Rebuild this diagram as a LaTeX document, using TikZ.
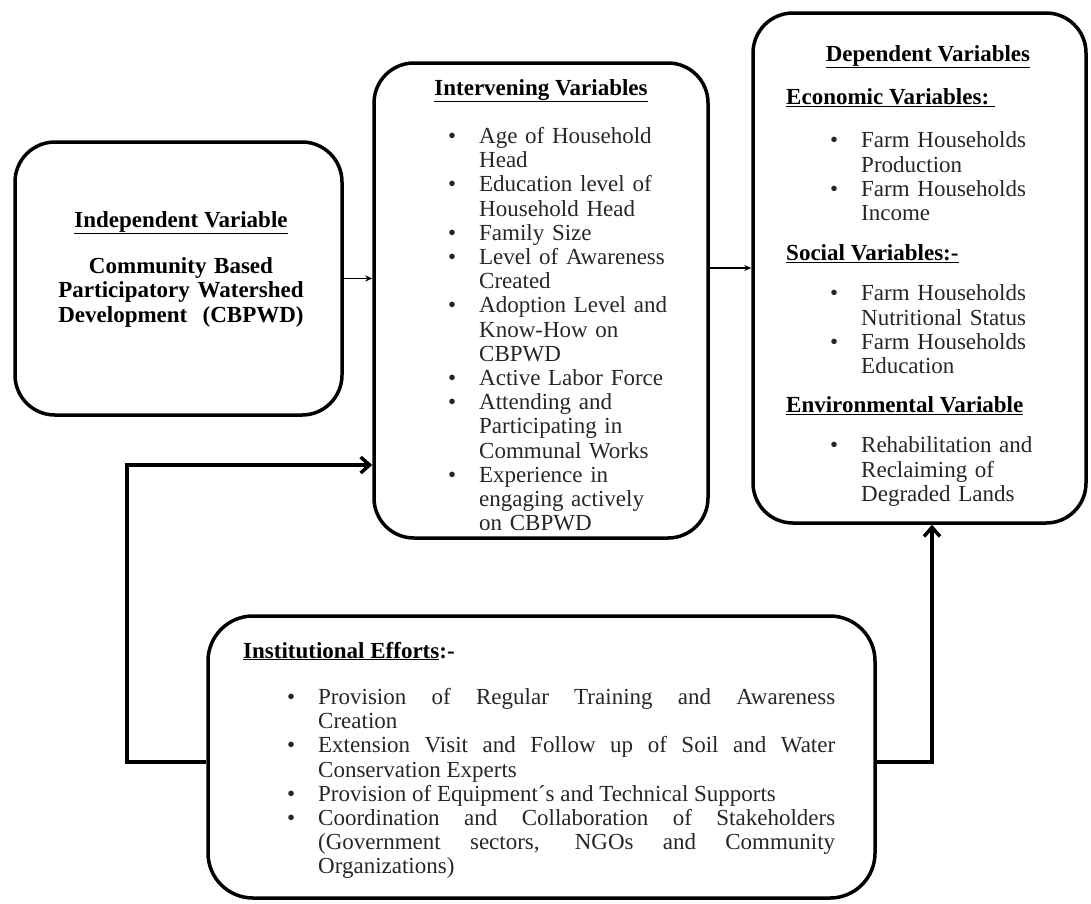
\documentclass[tikz,border=0pt]{standalone}
\usepackage{fontspec}
\setmainfont{Liberation Serif}
\usetikzlibrary{arrows.meta}

\newcommand{\listsize}{\fontsize{23}{24.2}\selectfont\hyphenpenalty=10000\relax}
\newcommand{\bullitem}[1]{\par\hangindent=31pt\hangafter=1\relax\noindent\makebox[31pt][l]{\strut\textbullet}#1\par}

\tikzset{
  varbox/.style={draw=black, line width=3.5pt, rounded corners=40pt, inner sep=0pt},
  head/.style={inner sep=0pt, font=\fontsize{23}{25}\selectfont\bfseries},
  blist/.style={anchor=north west, inner sep=0pt, text=black!85, font=\listsize},
  flow/.style={line width=1.2pt, -{Stealth[length=7pt,width=6pt]}},
  feedback/.style={line width=3.5pt, -{Straight Barb[length=9pt,width=16pt]}}
}

\begin{document}
\begin{tikzpicture}[x=1pt,y=-1pt]

    \useasboundingbox (0,0) rectangle (1091,903);

    \node[varbox, minimum width=327pt, minimum height=273pt] (indep) at (178.5,278.5) {};
    \node[varbox, minimum width=334pt, minimum height=475pt] (interv) at (541,300.5) {};
    \node[varbox, minimum width=333pt, minimum height=510pt] (dep) at (919.5,268) {};
    \node[varbox, rounded corners=45pt, minimum width=667pt, minimum height=282pt] (inst) at (541.5,757) {};

    \node[head, anchor=base] (indephead) at (181,227) {\underline{Independent Variable}};
    \node[head, anchor=north, text width=320pt, align=center, font=\fontsize{23}{24.5}\selectfont\bfseries] (indeptext) at (181,255.9)
      {\strut Community Based\\ Participatory Watershed\\ Development\ \ (CBPWD)};

    \node[head, anchor=base] (intervhead) at (541,95) {\underline{Intervening Variables}};
    \node[blist, text width=245pt, align=left] (intervlist) at (448,119) {%
      \bullitem{Age of Household\newline Head}
      \bullitem{Education level of\newline Household Head}
      \bullitem{Family Size}
      \bullitem{Level of Awareness\newline Created}
      \bullitem{Adoption Level and\newline Know-How on\newline CBPWD}
      \bullitem{Active Labor Force}
      \bullitem{Attending and\newline Participating in\newline Communal Works}
      \bullitem{Experience in\newline engaging actively\newline on CBPWD}};

    \node[head, anchor=base] (dephead) at (928,61) {\underline{Dependent Variables}};
    \node[head, anchor=base west] (econhead) at (786,104) {\underline{Economic Variables:\ }};
    \node[blist, text width=225pt, align=left] (econlist) at (830,123.5) {%
      \bullitem{Farm Households\newline Production}
      \bullitem{Farm Households\newline Income}};
    \node[head, anchor=base west] (sochead) at (786,260) {\underline{Social Variables:-}};
    \node[blist, text width=225pt, align=left] (soclist) at (830,276.5) {%
      \bullitem{Farm Households\newline Nutritional Status}
      \bullitem{Farm Households\newline Education}};
    \node[head, anchor=base west] (envhead) at (786,412) {\underline{Environmental Variable}};
    \node[blist, text width=225pt, align=left] (envlist) at (830,428.5) {%
      \bullitem{Rehabilitation and\newline Reclaiming of\newline Degraded Lands}};

    \node[head, anchor=base west] (insthead) at (243,658) {\underline{Institutional Efforts}:-};
    \node[blist, text width=548pt, align=justify] (instlist) at (287,680) {%
      \bullitem{Provision of Regular Training and Awareness\linebreak Creation}
      \bullitem{Extension Visit and Follow up of Soil and Water\linebreak Conservation Experts}
      \bullitem{Provision of Equipment´s and Technical Supports}
      \bullitem{Coordination and Collaboration of Stakeholders\linebreak (Government sectors, NGOs and Community\linebreak Organizations)}};

    \coordinate (fbl) at (127,465);
    \coordinate (fbr) at (932,762);

    \draw[flow] (indep.east) -- (indep.east -| interv.west);
    \draw[flow] (interv.east |- dep.west) -- (dep.west);
    \draw[feedback] (inst.west |- fbr) -| (fbl) -- (fbl -| interv.west);
    \draw[feedback] (inst.east |- fbr) -- (fbr) -- (fbr |- dep.south);

\end{tikzpicture}
\end{document}
